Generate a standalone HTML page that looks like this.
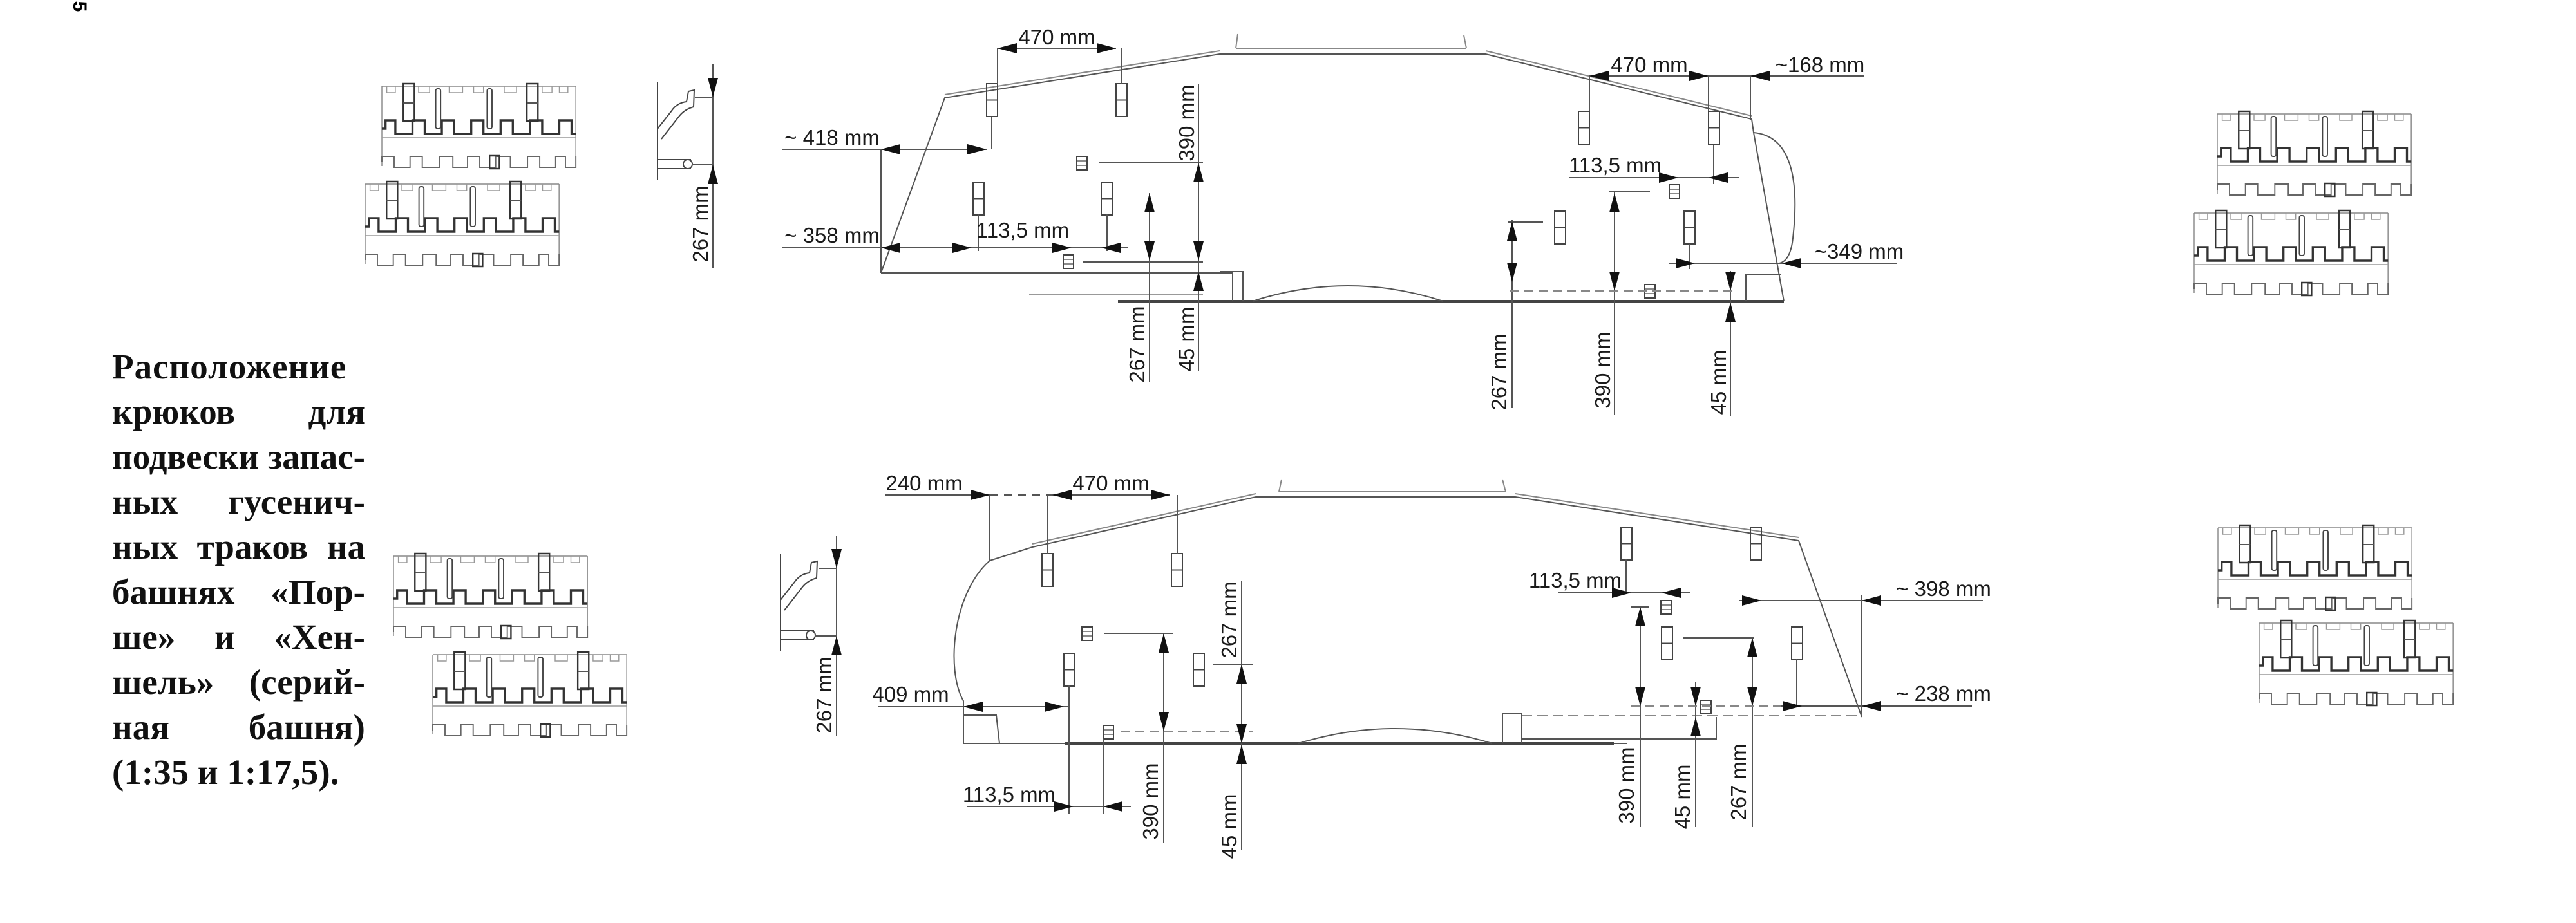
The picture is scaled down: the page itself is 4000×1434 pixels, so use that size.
<!DOCTYPE html>
<html><head><meta charset="utf-8"><style>
html,body{margin:0;padding:0;background:#fff}
#c{position:relative;width:4000px;height:1434px;overflow:hidden;background:#fff}
svg{position:absolute;left:0;top:0}
.t{font-family:"Liberation Sans",sans-serif;font-size:33px;fill:#1a1a1a}
#p{position:absolute;left:174px;top:535px;width:393px;font-family:"Liberation Serif","Noto Serif CJK SC",serif;font-weight:bold;font-size:55px;line-height:70px;color:#111}
#p div{text-align:justify;text-align-last:justify;white-space:nowrap;height:70px}
#p div.l{text-align-last:left}
</style></head><body><div id="c">
<svg width="4000" height="1434" viewBox="0 0 4000 1434">
<defs>
<g id="trk0" fill="none" stroke="#555">
<path d="M0,4 V128 M317,4 V128 M0,4 H317" stroke-width="1.5" stroke="#888"/>
<path d="M8,4 v10 h14 v-10 M60,4 v10 h18 v-10 M110,4 v10 h22 v-10 M150,4 v10 h16 v-10 M200,4 v10 h20 v-10 M262,4 v10 h16 v-10 M290,4 v10 h14 v-10" stroke-width="1.5" stroke="#999"/>
<path d="M0,70 H6 V57 H22 V78 H50 V57 H70 V78 H98 V57 H118 V78 H146 V57 H166 V78 H194 V57 H214 V78 H242 V57 H262 V78 H290 V57 H310 V78 H317" stroke-width="3.5" stroke="#333"/>
<path d="M0,84 H317" stroke-width="1.5" stroke="#999"/>
<path d="M0,122 V113 H20 V130 H46 V113 H66 V130 H94 V113 H116 V130 H140 V113 H160 V130 H186 V113 H210 V130 H238 V113 H258 V130 H284 V113 H300 V130 H317 V113" stroke-width="2" stroke="#666"/>
<rect x="35" y="0" width="18" height="58" stroke-width="2.5" stroke="#333"/><path d="M35,30 H53" stroke-width="2"/>
<rect x="237" y="0" width="18" height="58" stroke-width="2.5" stroke="#333"/><path d="M237,30 H255" stroke-width="2"/>
<rect x="88" y="8" width="8" height="62" rx="3" stroke-width="2" stroke="#444"/>
<rect x="172" y="8" width="8" height="62" rx="3" stroke-width="2" stroke="#444"/>
<rect x="176" y="112" width="16" height="20" stroke-width="2.5" stroke="#333"/>
</g>
<g id="trk"><use href="#trk0" transform="scale(0.95,1)"/></g>
<g id="hk" fill="none" stroke="#444" stroke-width="2"><rect x="0" y="0" width="17" height="51"/><path d="M0,25.5 H17"/></g>
<g id="sq" fill="none" stroke="#444" stroke-width="2"><rect x="0" y="0" width="16" height="21"/><path d="M0,7 H16 M0,14 H16" stroke-width="1.2"/></g>
<g id="hook" fill="none" stroke="#444" stroke-width="2">
<path d="M0,0 V151"/>
<path d="M0,72 L22,44 Q30,32 45,30 L48,14 L57,12 L56,38 Q42,42 34,52 L6,88"/>
<path d="M0,120 H52 M0,134 H52"/><circle cx="47" cy="127" r="7"/>
</g>
</defs>

<text x="0" y="0" transform="translate(124,10) rotate(90)" style="font-family:'Liberation Sans',sans-serif;font-weight:bold;font-size:30px" dy="10" text-anchor="middle">5</text>

<use href="#trk" x="593" y="130"/>
<use href="#trk" x="567" y="282"/>
<use href="#trk" x="611" y="860"/>
<use href="#trk" x="672" y="1013"/>
<use href="#trk" x="3443" y="173"/>
<use href="#trk" x="3407" y="327"/>
<use href="#trk" x="3444" y="816"/>
<use href="#trk" x="3508" y="964"/>

<use href="#hook" x="1021" y="128"/>
<use href="#hook" x="1212" y="860"/>
<g stroke="#555" stroke-width="2" fill="none">
<path d="M1107,100 V416 M1079,151 H1107 M1075,256 H1107"/>
<path d="M1299,832 V1143 M1271,883 H1299 M1266,988 H1299"/>
</g>

<g fill="none" stroke="#555" stroke-width="2">
<path d="M1368,424 L1467,152 L1894,84 L2307,84 L2720,185 L2723,206 L2770,468"/>
<path d="M1467,147 L1894,79 M2307,79 L2720,180" stroke="#888"/>
<path d="M2723,206 C2790,212 2792,300 2784,370 C2781,398 2772,407 2763,409"/>
<path d="M1736,468 H2770" stroke-width="4" stroke="#444"/>
<path d="M1368,424 H1914 M1894,422 H1930 V467 M1914,424 V467"/>
<path d="M2711,468 V427 H2765"/>
<path d="M1945,468 Q2093,420 2241,468"/>
<path d="M1919,75 H2277 M1922,53 L1919,75 M2273,55 L2277,75" stroke="#888"/>
<path d="M1598,458 H1868" stroke="#999"/>
</g>
<g>
<use href="#hk" x="1532" y="130"/><use href="#hk" x="1733" y="130"/>
<use href="#hk" x="1511" y="283"/><use href="#hk" x="1710" y="283"/>
<use href="#hk" x="2451" y="173"/><use href="#hk" x="2653" y="173"/>
<use href="#hk" x="2414" y="328"/><use href="#hk" x="2615" y="328"/>
<use href="#sq" x="1672" y="243"/><use href="#sq" x="1651" y="396"/>
<use href="#sq" x="2592" y="287"/><use href="#sq" x="2554" y="442"/>
</g>
<g fill="none" stroke="#555" stroke-width="2">
<path d="M1549,75 H1733 M1549,75 V130 M1742,75 V130 M1540,181 V232 M1519,333 V390 M1719,333 V390"/>
<path d="M1215,232 H1532 M1368,232 V424 M1215,385 H1751"/>
<path d="M1861,130 V576 M1785,300 V593 M1707,252 H1868 M1682,407 H1868"/>
<path d="M2468,118 H2894 M2468,118 V173 M2653,118 V173 M2718,118 V186 M2661,225 V286 M2623,379 V418"/>
<path d="M2437,276 H2700 M2507,297 V644 M2498,297 H2562 M2687,421 V646 M2348,342 V634 M2341,345 H2396"/>
<path d="M2345,452 H2695" stroke-dasharray="14,8" stroke="#888"/>
<path d="M2592,409 H2945"/>
</g>
<g fill="#111">
<polygon points="1549,75 1579,67 1579,83"/><polygon points="1733,75 1703,67 1703,83"/>
<polygon points="1368,232 1398,224 1398,240"/><polygon points="1532,232 1502,224 1502,240"/>
<polygon points="1368,385 1398,377 1398,393"/><polygon points="1509,385 1479,377 1479,393"/>
<polygon points="1664,385 1634,377 1634,393"/><polygon points="1710,385 1740,377 1740,393"/>
<polygon points="1861,253 1853,283 1869,283"/><polygon points="1861,405 1853,375 1869,375"/>
<polygon points="1861,422 1853,452 1869,452"/><polygon points="1785,300 1777,330 1793,330"/>
<polygon points="1785,405 1777,375 1793,375"/>
<polygon points="2468,118 2498,110 2498,126"/><polygon points="2653,118 2623,110 2623,126"/>
<polygon points="2718,118 2748,110 2748,126"/><polygon points="2606,276 2576,268 2576,284"/>
<polygon points="2653,276 2683,268 2683,284"/><polygon points="2507,300 2499,330 2515,330"/>
<polygon points="2507,452 2499,422 2515,422"/><polygon points="2687,452 2679,422 2695,422"/>
<polygon points="2687,470 2679,500 2695,500"/><polygon points="2348,344 2340,374 2356,374"/>
<polygon points="2348,438 2340,408 2356,408"/><polygon points="2632,409 2602,401 2602,417"/>
<polygon points="2767,409 2797,401 2797,417"/>
<polygon points="1107,151 1099,121 1115,121"/><polygon points="1107,256 1099,286 1115,286"/>
<polygon points="1299,883 1291,853 1307,853"/><polygon points="1299,988 1291,1018 1307,1018"/>
</g>
<g class="t">
<text x="1641" y="69" text-anchor="middle">470 mm</text>
<text x="1292" y="225" text-anchor="middle">~ 418 mm</text>
<text x="1292" y="377" text-anchor="middle">~ 358 mm</text>
<text x="1588" y="369" text-anchor="middle">113,5 mm</text>
<text transform="translate(1843,191) rotate(-90)" text-anchor="middle" dy="11">390 mm</text>
<text transform="translate(1843,527) rotate(-90)" text-anchor="middle" dy="11">45 mm</text>
<text transform="translate(1766,535) rotate(-90)" text-anchor="middle" dy="11">267 mm</text>
<text x="2561" y="112" text-anchor="middle">470 mm</text>
<text x="2826" y="112" text-anchor="middle">~168 mm</text>
<text x="2508" y="268" text-anchor="middle">113,5 mm</text>
<text transform="translate(2489,575) rotate(-90)" text-anchor="middle" dy="11">390 mm</text>
<text transform="translate(2669,594) rotate(-90)" text-anchor="middle" dy="11">45 mm</text>
<text transform="translate(2328,578) rotate(-90)" text-anchor="middle" dy="11">267 mm</text>
<text x="2887" y="402" text-anchor="middle">~349 mm</text>
<text transform="translate(1088,348) rotate(-90)" text-anchor="middle" dy="11">267 mm</text>
<text transform="translate(1280,1080) rotate(-90)" text-anchor="middle" dy="11">267 mm</text>
</g>

<g fill="none" stroke="#555" stroke-width="2">
<path d="M1537,871 L1603,850 L1950,772 L2353,772 L2793,840 L2891,1114"/>
<path d="M1603,845 L1950,767 M2353,767 L2793,835" stroke="#888"/>
<path d="M1537,871 C1480,920 1468,1040 1496,1089 L1496,1155"/>
<path d="M1496,1155 H2527"/>
<path d="M1654,1155 H2506" stroke-width="4" stroke="#444"/>
<path d="M1496,1111 H1547 L1552,1155"/>
<path d="M2016,1155 Q2166,1109 2317,1155"/>
<path d="M2333,1155 V1109 H2363 V1155 M2363,1148 H2665 V1114"/>
<path d="M2363,1112 H2891" stroke-dasharray="16,8" stroke="#888"/>
<path d="M1986,764 H2338 M1990,745 L1986,764 M2333,745 L2338,764" stroke="#888"/>
</g>
<g>
<use href="#hk" x="1618" y="860"/><use href="#hk" x="1819" y="860"/>
<use href="#hk" x="1652" y="1015"/><use href="#hk" x="1853" y="1015"/>
<use href="#hk" x="2517" y="819"/><use href="#hk" x="2718" y="819"/>
<use href="#hk" x="2580" y="974"/><use href="#hk" x="2782" y="974"/>
<use href="#sq" x="1680" y="974"/><use href="#sq" x="1713" y="1127"/>
<use href="#sq" x="2579" y="933"/><use href="#sq" x="2641" y="1088"/>
</g>
<g fill="none" stroke="#555" stroke-width="2">
<path d="M1375,769 H1537 M1634,769 H1817 M1537,769 V871 M1627,769 V860 M1828,769 V860"/>
<path d="M1537,769 H1634" stroke-dasharray="12,10"/>
<path d="M1363,1098 H1660 M1660,1065 V1264 M1501,1253 H1756 M1713,1148 V1264"/>
<path d="M1807,984 V1309 M1715,984 H1822 M1928,902 V1321 M1884,1032 H1945"/>
<path d="M1741,1136 H1945" stroke-dasharray="14,8" stroke="#888"/>
<path d="M2420,921 H2625 M2525,869 V921 M2547,943 V1285 M2533,943 H2561 M2633,1060 V1285 M2721,991 V1285 M2613,991 H2723"/>
<path d="M2533,1097 H2891" stroke-dasharray="14,8" stroke="#888"/>
<path d="M2700,933 H3079 M2891,925 V1114 M2765,1097 H3062 M2790,1024 V1097"/>
</g>
<g fill="#111">
<polygon points="1537,769 1507,761 1507,777"/><polygon points="1634,769 1664,761 1664,777"/>
<polygon points="1817,769 1787,761 1787,777"/><polygon points="1496,1098 1526,1090 1526,1106"/>
<polygon points="1652,1098 1622,1090 1622,1106"/><polygon points="1667,1253 1637,1245 1637,1261"/>
<polygon points="1713,1253 1743,1245 1743,1261"/><polygon points="1807,984 1799,1014 1815,1014"/>
<polygon points="1807,1136 1799,1106 1815,1106"/><polygon points="1928,1032 1920,1062 1936,1062"/>
<polygon points="1928,1155 1920,1125 1936,1125"/><polygon points="1928,1157 1920,1187 1936,1187"/>
<polygon points="2533,921 2503,913 2503,929"/><polygon points="2580,921 2610,913 2610,929"/>
<polygon points="2547,943 2539,973 2555,973"/><polygon points="2547,1097 2539,1067 2555,1067"/>
<polygon points="2633,1097 2625,1067 2641,1067"/><polygon points="2633,1114 2625,1144 2641,1144"/>
<polygon points="2721,991 2713,1021 2729,1021"/><polygon points="2721,1097 2713,1067 2729,1067"/>
<polygon points="2735,933 2705,925 2705,941"/><polygon points="2891,933 2921,925 2921,941"/>
<polygon points="2798,1097 2768,1089 2768,1105"/><polygon points="2891,1097 2921,1089 2921,1105"/>
</g>
<g class="t">
<text x="1435" y="762" text-anchor="middle">240 mm</text>
<text x="1725" y="762" text-anchor="middle">470 mm</text>
<text x="1414" y="1090" text-anchor="middle">409 mm</text>
<text x="1567" y="1246" text-anchor="middle">113,5 mm</text>
<text transform="translate(1787,1245) rotate(-90)" text-anchor="middle" dy="11">390 mm</text>
<text transform="translate(1909,963) rotate(-90)" text-anchor="middle" dy="11">267 mm</text>
<text transform="translate(1909,1284) rotate(-90)" text-anchor="middle" dy="11">45 mm</text>
<text x="2446" y="913" text-anchor="middle">113,5 mm</text>
<text transform="translate(2526,1220) rotate(-90)" text-anchor="middle" dy="11">390 mm</text>
<text transform="translate(2613,1238) rotate(-90)" text-anchor="middle" dy="11">45 mm</text>
<text transform="translate(2700,1215) rotate(-90)" text-anchor="middle" dy="11">267 mm</text>
<text x="3018" y="926" text-anchor="middle">~ 398 mm</text>
<text x="3018" y="1089" text-anchor="middle">~ 238 mm</text>
</g>
</svg>
<div id="p">
<div style="letter-spacing:1px">Расположение</div>
<div>крюков для</div>
<div>подвески запас-</div>
<div>ных гусенич-</div>
<div>ных траков на</div>
<div>башнях «Пор-</div>
<div>ше» и «Хен-</div>
<div>шель» (серий-</div>
<div>ная башня)</div>
<div class="l">(1:35 и 1:17,5).</div>
</div>
</div></body></html>
